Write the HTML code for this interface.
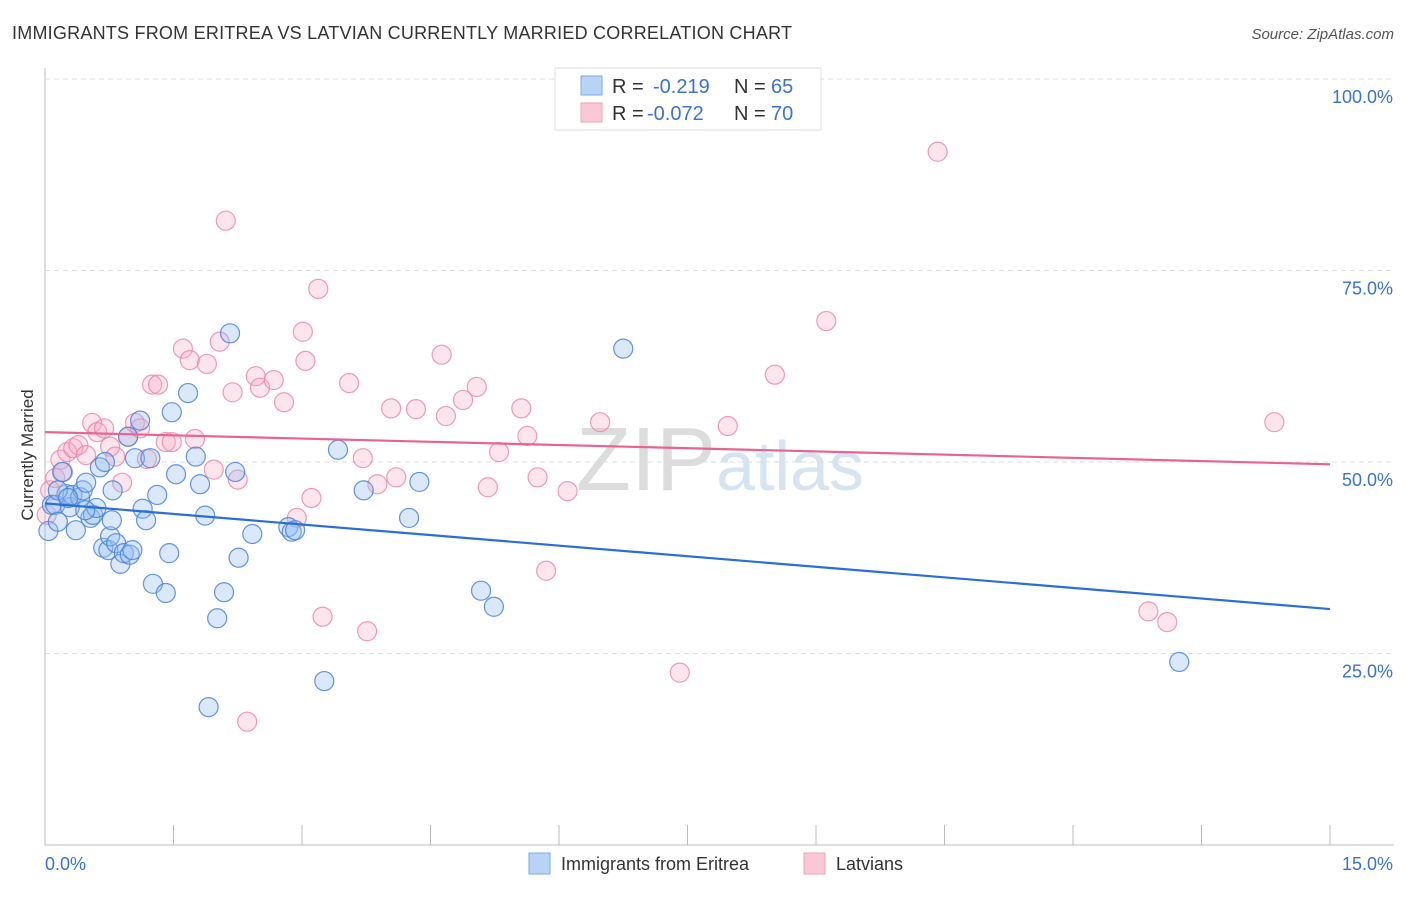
<!DOCTYPE html>
<html><head><meta charset="utf-8"><style>
body{margin:0;background:#fff;font-family:"Liberation Sans",sans-serif;}
svg text{font-family:"Liberation Sans",sans-serif;}
</style></head><body>
<svg id="chart" width="1406" height="892" xmlns="http://www.w3.org/2000/svg">
<text x="12" y="39" font-size="18" fill="#333" textLength="780">IMMIGRANTS FROM ERITREA VS LATVIAN CURRENTLY MARRIED CORRELATION CHART</text>
<text x="1394" y="39" font-size="15" fill="#555" font-style="italic" text-anchor="end">Source: ZipAtlas.com</text>
<text x="33" y="455" font-size="17" fill="#333" text-anchor="middle" transform="rotate(-90 33 455)">Currently Married</text>
<g id="grid"></g>
<text x="720" y="490" font-size="90" fill="#e4e4e4" text-anchor="middle" font-family="Liberation Serif"><tspan fill="#dcdcdc">ZIP</tspan><tspan fill="#d6e3f3" font-family="Liberation Sans" font-size="70">atlas</tspan></text>
<g id="pts"></g>
<g id="lines"></g>
<g>
<rect x="555" y="68" width="266" height="62" fill="#fff" stroke="#ddd"/>
<rect x="581" y="76" width="21" height="19" fill="#b9d3f5" stroke="#7aa8e8"/>
<rect x="581" y="103" width="21" height="19" fill="#fbc8d8" stroke="#f0a0b8"/>
<g font-size="20">
<text x="612" y="93" fill="#333">R =</text>
<text x="653" y="93" fill="#3a72d0">-0.219</text>
<text x="734" y="93" fill="#333">N =</text>
<text x="771" y="93" fill="#3a72d0">65</text>
</g>
<g font-size="20">
<text x="612" y="120" fill="#333">R =</text>
<text x="647" y="120" fill="#3a72d0">-0.072</text>
<text x="734" y="120" fill="#333">N =</text>
<text x="771" y="120" fill="#3a72d0">70</text>
</g>
</g>
<g>
<rect x="529" y="853" width="21" height="21" fill="#b9d3f5" stroke="#7aa8e8"/>
<text x="561" y="870" font-size="18" fill="#333">Immigrants from Eritrea</text>
<rect x="804" y="853" width="21" height="21" fill="#fbc8d8" stroke="#f0a0b8"/>
<text x="836" y="870" font-size="18" fill="#333">Latvians</text>
</g>
</svg>
<script>
const blueX=[0.04,0.08,0.12,0.15,0.20,0.25,0.29,0.32,0.36,0.41,0.44,0.48,0.53,0.56,0.60,0.64,0.68,0.70,0.74,0.76,0.79,0.83,0.88,0.92,0.97,0.99,1.02,1.05,1.11,1.14,1.18,1.23,1.26,1.31,1.41,1.45,1.48,1.53,1.67,1.76,1.81,1.87,1.91,2.01,2.09,2.16,2.22,2.26,2.42,2.84,2.88,2.92,3.26,3.42,3.72,4.25,4.37,5.09,5.24,6.75,13.24,0.15,0.27,0.78,0.47];
const blueY=[41.0,44.4,44.4,42.2,48.7,45.8,44.1,45.7,41.1,45.4,46.3,47.3,42.7,43.1,44.0,49.3,38.8,50.0,38.5,40.3,46.3,39.4,36.7,38.1,53.3,37.9,38.5,50.5,55.4,43.9,42.4,50.5,34.1,45.7,32.9,38.1,56.5,48.4,59.0,50.7,47.1,43.0,18.0,29.6,33.0,66.8,48.7,37.5,40.6,41.5,40.9,41.1,21.4,51.6,46.3,42.7,47.4,33.2,31.1,64.8,23.9,46.3,45.3,42.4,43.7];
const pinkX=[0.02,0.06,0.12,0.18,0.21,0.26,0.33,0.39,0.48,0.55,0.61,0.69,0.76,0.82,0.90,0.97,1.05,1.11,1.19,1.25,1.32,1.41,1.48,1.61,1.69,1.75,1.89,1.97,2.04,2.11,2.19,2.25,2.36,2.46,2.51,2.67,2.79,2.94,3.01,3.04,3.11,3.19,3.24,3.55,3.71,3.76,3.88,4.04,4.10,4.33,4.68,4.63,4.88,5.04,5.17,5.30,5.56,5.63,5.75,5.85,6.10,6.48,7.41,7.97,8.52,9.12,10.42,12.88,13.10,14.35];
const pinkY=[43.1,46.3,47.9,50.3,48.7,51.3,51.8,52.2,50.9,55.1,53.9,54.4,52.0,50.7,47.3,53.3,55.1,54.4,50.4,60.1,60.1,52.6,52.6,64.8,63.3,53.0,62.8,49.0,65.7,81.5,59.1,47.7,16.1,61.2,59.7,60.7,57.8,42.7,67.0,63.2,45.3,72.6,29.8,60.3,50.5,27.9,47.1,57.0,48.0,56.9,56.0,64.0,58.1,59.8,46.7,51.3,57.0,53.4,48.0,35.8,46.2,55.2,22.5,54.7,61.4,68.4,90.5,30.5,29.1,55.2];
const trendBlue=[44.6,30.8];
const trendPink=[53.9,49.7];
const yTicks=[25,50,75,100];
const yTickLabels=["25.0%","50.0%","75.0%","100.0%"];
const xTicks=[0,1.5,3,4.5,6,7.5,9,10.5,12,13.5,15];
const NS="http://www.w3.org/2000/svg";
function sx(v){return 45+v/15*1285;}
function sy(v){return 845-v/100*766;}
function mk(tag,attrs,parent){const e=document.createElementNS(NS,tag);for(const k in attrs)e.setAttribute(k,attrs[k]);parent.appendChild(e);return e;}
const grid=document.getElementById('grid');
let ax=mk('line',{x1:45,y1:68,x2:45,y2:845,stroke:'#bbb'},grid);


let bx=mk('line',{x1:45,y1:845,x2:1394,y2:845,stroke:'#bbb'},grid);


yTicks.forEach((t,i)=>{
 const g=mk('line',{x1:45,y1:sy(t),x2:1394,y2:sy(t),stroke:'#ddd','stroke-dasharray':'5,4'},grid);
 
 
 const l=mk('text',{x:1393,y:sy(t)+24,'font-size':18,fill:'#3a72d0','text-anchor':'end'},grid);
 l.textContent=yTickLabels[i];
 
 
});
xTicks.forEach(t=>{
 const k=mk('line',{x1:sx(t),y1:825,x2:sx(t),y2:845,stroke:'#bbb'},grid);
 
 
});
let x0=mk('text',{x:45,y:870,'font-size':18,fill:'#3a72d0'},grid);x0.textContent='0.0%';


let x1=mk('text',{x:1393,y:870,'font-size':18,fill:'#3a72d0','text-anchor':'end'},grid);x1.textContent='15.0%';


const pts=document.getElementById('pts');
pinkX.forEach((v,i)=>{
 const c=mk('circle',{cx:sx(v),cy:sy(pinkY[i]),r:9.5,fill:'rgba(248,170,195,0.3)',stroke:'rgba(235,130,165,0.8)','stroke-width':1.2},pts);
 
 
});
blueX.forEach((v,i)=>{
 const c=mk('circle',{cx:sx(v),cy:sy(blueY[i]),r:9.5,fill:'rgba(150,190,240,0.35)',stroke:'rgba(70,130,220,0.85)','stroke-width':1.2},pts);
 
 
});
const lines=document.getElementById('lines');
let lb=mk('line',{x1:sx(0),y1:sy(trendBlue[0]),x2:sx(15),y2:sy(trendBlue[1]),stroke:'#2a6fd6','stroke-width':2.2},lines);


let lp=mk('line',{x1:sx(0),y1:sy(trendPink[0]),x2:sx(15),y2:sy(trendPink[1]),stroke:'#e8648e','stroke-width':2.2},lines);


</script>
</body></html>
